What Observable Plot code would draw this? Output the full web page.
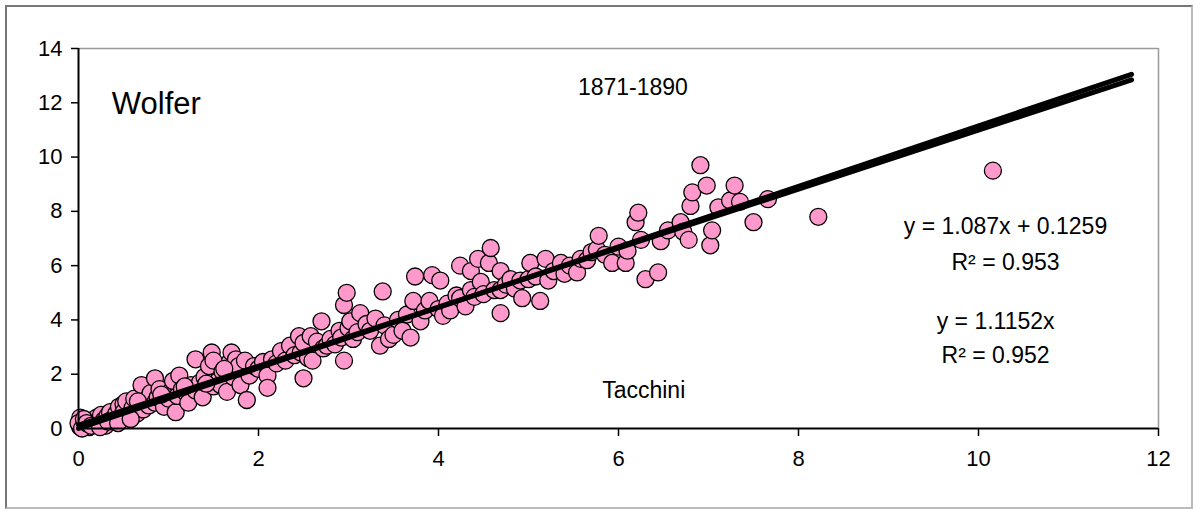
<!DOCTYPE html>
<html>
<head>
<meta charset="utf-8">
<script src="https://cdn.jsdelivr.net/npm/d3@7"></script>
<script src="https://cdn.jsdelivr.net/npm/@observablehq/plot@0.6"></script>
<style>
  html, body { margin: 0; padding: 0; background: #fff; }
  #wrap { position: relative; width: 1193px; height: 509px; }
  #border { position: absolute; left: 5px; top: 5px; width: 1184px; height: 500px;
            border: 2px solid #777; border-right-color: #bbb; border-bottom-color: #bbb; pointer-events: none; }
  svg { font-family: "Liberation Sans", Arial, sans-serif; }
</style>
</head>
<body>
<div id="wrap"><div id="border"></div></div>
<script>
// Tacchini (x) and Wolfer (y) values, 1871-1890
const tacchini = [
0.02,0.03,0.05,0.02,0.08,0.10,0.12,0.15,0.18,0.20,0.22,0.25,0.28,0.30,0.32,0.35,0.38,0.40,0.42,0.45,0.48,0.50,0.50,0.53,0.55,
0.60,0.62,0.65,0.68,0.70,0.72,0.75,0.78,0.80,0.85,0.85,0.88,0.90,0.95,1.00,1.02,1.05,1.08,1.10,1.12,1.15,1.20,1.22,1.25,1.30,
1.30,1.35,1.38,1.40,1.45,1.48,1.50,1.50,1.55,1.58,1.60,1.65,1.68,1.70,1.72,1.75,1.78,1.80,1.85,1.87,1.90,1.95,2.00,2.05,2.10,
2.10,2.15,2.20,2.25,2.30,2.35,2.40,2.45,2.47,2.50,2.50,2.55,2.58,2.60,2.65,2.70,2.72,2.76,2.80,2.85,2.90,2.92,2.95,2.95,2.98,
3.00,3.02,3.05,3.10,3.13,3.20,3.24,3.30,3.35,3.38,3.40,3.45,3.50,3.55,3.60,3.65,3.69,3.72,3.74,3.80,3.85,3.90,3.93,4.00,4.02,
4.05,4.10,4.13,4.20,4.24,4.24,4.30,4.36,4.36,4.40,4.44,4.47,4.50,4.56,4.58,4.62,4.69,4.69,4.69,4.75,4.80,4.85,4.91,4.93,5.00,
5.02,5.08,5.13,5.19,5.22,5.28,5.36,5.40,5.46,5.54,5.58,5.65,5.70,5.76,5.78,5.85,5.93,6.00,6.08,6.10,6.19,6.22,6.25,6.30,6.44,
6.47,6.55,6.69,6.72,6.78,6.80,6.82,6.91,6.98,7.02,7.04,7.11,7.24,7.29,7.35,7.50,7.66,8.22,10.16,
0.00,0.04,0.06,0.09,0.14,0.24,0.33,0.44,0.58,0.66,0.92,1.18,1.42,1.62
];
const wolfer = [
0.05,0.15,0.30,0.40,0.10,0.25,0.05,0.30,0.15,0.40,0.20,0.50,0.30,0.10,0.45,0.60,0.35,0.25,0.55,0.80,0.40,0.90,0.60,1.00,0.45,
0.75,1.10,0.55,0.90,1.60,0.70,1.05,0.85,1.30,1.85,0.95,1.15,1.45,0.80,1.10,1.35,1.75,0.60,1.20,1.95,1.45,1.30,0.95,1.60,2.55,
1.40,1.70,1.15,1.90,2.30,2.80,1.55,2.50,1.75,1.60,2.10,1.35,2.45,2.80,1.90,2.55,2.30,1.60,2.50,1.05,1.95,2.30,2.20,2.45,1.95,
1.50,2.55,2.40,2.85,2.50,3.05,2.70,3.40,2.80,1.85,3.15,2.60,3.40,2.50,3.20,3.95,2.95,3.05,3.30,3.10,3.60,3.35,2.50,4.55,5.00,
3.70,3.95,3.30,3.55,4.25,3.85,3.60,4.05,3.05,5.05,3.80,3.30,3.45,4.00,3.60,4.20,3.35,4.70,5.60,3.95,4.35,4.70,5.65,4.40,5.45,
4.15,4.60,4.35,4.90,4.80,6.00,4.50,5.10,5.80,4.85,6.25,5.40,4.95,6.10,6.65,5.10,4.25,5.10,5.80,5.30,5.50,5.15,5.45,4.80,5.50,
6.10,5.60,4.70,6.25,5.45,5.80,6.10,5.70,6.00,5.75,6.25,6.20,6.50,6.60,7.10,6.40,6.10,6.70,6.10,6.55,7.60,7.95,6.95,5.50,5.75,
6.90,7.30,7.60,7.25,6.95,8.20,8.70,9.70,8.95,6.75,7.30,8.15,8.40,8.95,8.35,7.60,8.45,7.80,9.50,
0.20,0.00,0.35,0.20,0.10,0.05,0.25,0.20,0.35,1.00,1.25,1.55,1.65,2.20
];
const points = tacchini.map((t, i) => ({ tacchini: t, wolfer: wolfer[i] }));

// Trend lines (from the equations shown on the chart)
const fitRange = [0, 11.7];
const fitLinear = { slope: 1.087, intercept: 0.1259 };
const fitOrigin = { slope: 1.1152, intercept: 0 };
const fitLines = [fitLinear, fitOrigin].flatMap((f, k) =>
  fitRange.map(x => ({ k, x, y: f.slope * x + f.intercept })));

const xTicks = [0, 2, 4, 6, 8, 10, 12];
const yTicks = [0, 2, 4, 6, 8, 10, 12, 14];

const labels = [
  { x: 0.37, y: 11.94, text: "Wolfer", size: 31, anchor: "start" },
  { x: 6.16, y: 12.55, text: "1871-1890", size: 23, anchor: "middle" },
  { x: 6.28, y: 1.40, text: "Tacchini", size: 23, anchor: "middle" },
  { x: 10.30, y: 7.44, text: "y = 1.087x + 0.1259", size: 23, anchor: "middle" },
  { x: 10.30, y: 6.12, text: "R² = 0.953", size: 23, anchor: "middle" },
  { x: 10.19, y: 3.94, text: "y = 1.1152x", size: 23, anchor: "middle" },
  { x: 10.19, y: 2.69, text: "R² = 0.952", size: 23, anchor: "middle" }
];

const chart = Plot.plot({
  width: 1193,
  height: 509,
  marginLeft: 78,
  marginRight: 35,
  marginTop: 48,
  marginBottom: 81,
  style: { fontFamily: "'Liberation Sans', Arial, sans-serif", background: "transparent", color: "#000" },
  x: { domain: [0, 12] },
  y: { domain: [0, 14] },
  marks: [
    Plot.ruleY([14], { stroke: "#999", strokeWidth: 1.5 }),
    Plot.ruleX([12], { stroke: "#999", strokeWidth: 1.5, y1: 0, y2: 14 }),
    Plot.axisX({ ticks: xTicks, tickSize: 8, tickPadding: 14, fontSize: 22, label: null, tickFormat: d => d, strokeWidth: 1.5 }),
    Plot.axisY({ ticks: yTicks, tickSize: 7, tickPadding: 9, fontSize: 22, label: null, tickFormat: d => d, strokeWidth: 1.5 }),
    Plot.dot(points, { x: "tacchini", y: "wolfer", r: 8.5, fill: "#ff99cc", stroke: "#000", strokeWidth: 1.3 }),
    Plot.line(fitLines, { x: "x", y: "y", z: "k", stroke: "#000", strokeWidth: 5 }),
    Plot.ruleY([0], { stroke: "#000", strokeWidth: 2 }),
    Plot.ruleX([0], { stroke: "#000", strokeWidth: 2 }),
    ...labels.map(l => Plot.text([l], { x: "x", y: "y", text: "text", fontSize: l.size, textAnchor: l.anchor, fill: "#000" }))
  ]
});
document.getElementById("wrap").appendChild(chart);
</script>
</body>
</html>
